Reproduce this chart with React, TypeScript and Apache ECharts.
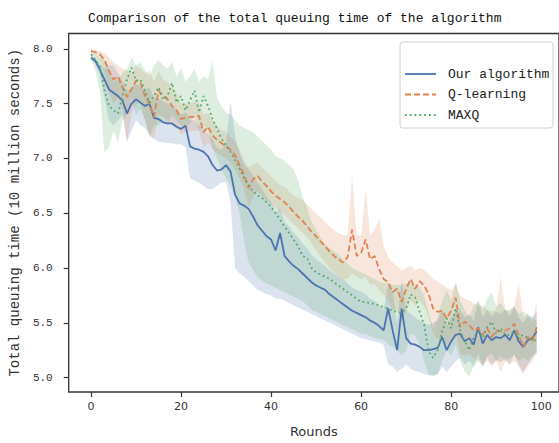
import React, { useEffect, useRef } from "react";
import * as echarts from "echarts";

const rounds: number[] = Array.from({ length: 100 }, (_, i) => i);
const xTicks = [0, 20, 40, 60, 80, 100];
const yTicks = [5.0, 5.5, 6.0, 6.5, 7.0, 7.5, 8.0];
const seriesNames = ["Our algorithm", "Q-learning", "MAXQ"];

const blueMean = [
  7.92, 7.89, 7.81, 7.72, 7.63, 7.6, 7.57, 7.53, 7.41, 7.5,
  7.54, 7.51, 7.48, 7.5, 7.37, 7.36, 7.33, 7.32, 7.32, 7.29,
  7.27, 7.3, 7.11, 7.09, 7.08, 7.06, 7.02, 6.94, 6.89, 6.9,
  6.94, 6.88, 6.67, 6.59, 6.57, 6.54, 6.47, 6.39, 6.34, 6.29,
  6.26, 6.16, 6.32, 6.11, 6.06, 6.02, 5.99, 5.95, 5.91, 5.87,
  5.84, 5.82, 5.8, 5.76, 5.73, 5.7, 5.67, 5.64, 5.61, 5.59,
  5.57, 5.55, 5.52, 5.5, 5.47, 5.43, 5.63, 5.43, 5.25, 5.63,
  5.36, 5.31, 5.3, 5.28, 5.25, 5.25, 5.26, 5.27, 5.37, 5.25,
  5.33, 5.39, 5.4, 5.33, 5.36, 5.3, 5.46, 5.31, 5.39, 5.34,
  5.37, 5.36, 5.39, 5.34, 5.43, 5.33, 5.28, 5.34, 5.36, 5.42,
];
const blueLow = [
  7.9, 7.86, 7.76, 7.55, 7.35, 7.3, 7.35, 7.4, 7.15, 7.25,
  7.35, 7.3, 7.28, 7.22, 7.18, 7.15, 7.15, 7.14, 7.14, 7.13,
  7.13, 7.1, 6.82, 6.8, 6.78, 6.75, 6.72, 6.72, 6.75, 6.78,
  6.78, 6.6, 6.0, 5.95, 5.92, 5.88, 5.84, 5.8, 5.78, 5.76,
  5.75, 5.72, 5.72, 5.7, 5.68, 5.66, 5.64, 5.62, 5.6, 5.58,
  5.56, 5.54, 5.52, 5.5, 5.48, 5.46, 5.44, 5.42, 5.4, 5.38,
  5.36, 5.35, 5.34, 5.33, 5.32, 5.3, 5.12, 5.1, 5.05, 5.08,
  5.12, 5.08, 5.06, 5.05, 5.03, 5.02, 5.02, 5.03, 5.1, 5.05,
  5.1, 5.15, 5.18, 5.12, 5.15, 5.1, 5.22, 5.1, 5.18, 5.12,
  5.16, 5.14, 5.18, 5.12, 5.22, 5.12, 5.05, 5.12, 5.18, 5.25,
];
const blueHigh = [
  7.94, 7.92, 7.86, 7.82, 7.85, 7.85, 7.78, 7.7, 7.62, 7.65,
  7.68, 7.66, 7.62, 7.65, 7.55, 7.55, 7.52, 7.5, 7.48, 7.45,
  7.4, 7.42, 7.35, 7.35, 7.3, 7.28, 7.22, 7.18, 7.1, 7.08,
  7.15, 7.52, 7.2, 7.05, 6.95, 6.9, 6.85, 6.78, 6.72, 6.65,
  6.6, 6.5, 6.55, 6.42, 6.38, 6.32, 6.28, 6.22, 6.18, 6.12,
  6.08, 6.05, 6.02, 5.98, 5.95, 5.92, 5.9, 5.86, 5.82, 5.8,
  5.78, 5.76, 5.72, 5.7, 5.66, 5.62, 5.85, 5.78, 5.5, 5.9,
  5.62, 5.58, 5.55, 5.52, 5.5, 5.48, 5.5, 5.52, 5.62, 5.48,
  5.55, 5.6, 5.62, 5.55, 5.58, 5.52, 5.7, 5.55, 5.62, 5.56,
  5.6, 5.58, 5.62, 5.56, 5.65, 5.55, 5.5, 5.56, 5.55, 5.6,
];

const orangeMean = [
  7.98, 7.97, 7.95, 7.9, 7.8, 7.72, 7.75, 7.65, 7.56, 7.63,
  7.71, 7.69, 7.57, 7.5, 7.38, 7.62, 7.57, 7.54, 7.48, 7.44,
  7.36, 7.37, 7.38, 7.38, 7.39, 7.24, 7.29, 7.21, 7.17, 7.14,
  7.11, 7.08, 7.03, 6.94, 6.85, 6.73, 6.81, 6.84, 6.79, 6.75,
  6.7, 6.66, 6.63, 6.6, 6.56, 6.51, 6.47, 6.43, 6.38, 6.33,
  6.29, 6.24, 6.2, 6.15, 6.11, 6.08, 6.05, 6.1, 6.35, 6.11,
  6.14, 6.26, 6.08, 6.11, 5.99, 5.9, 5.87, 5.78, 5.81, 5.69,
  5.81, 5.9, 5.81, 5.88, 5.84, 5.76, 5.63, 5.6, 5.61, 5.54,
  5.61, 5.73, 5.46, 5.51, 5.48, 5.43, 5.45, 5.39, 5.45, 5.37,
  5.43, 5.42, 5.43, 5.45, 5.49, 5.39, 5.28, 5.37, 5.33, 5.46,
];
const orangeLow = [
  7.96, 7.94, 7.88, 7.78, 7.6, 7.5, 7.55, 7.45, 7.15, 7.4,
  7.5, 7.5, 7.35, 7.2, 7.18, 7.4, 7.38, 7.35, 7.3, 7.28,
  7.22, 7.24, 7.25, 7.25, 7.25, 7.1, 7.15, 7.08, 7.05, 7.02,
  7.0, 6.96, 6.9, 6.82, 6.72, 6.55, 6.65, 6.7, 6.66, 6.62,
  6.58, 6.54, 6.52, 6.48, 6.44, 6.4, 6.36, 6.32, 6.28, 6.22,
  6.16, 6.1, 6.05, 6.0, 5.96, 5.92, 5.9, 5.9, 5.95, 5.92,
  5.9, 5.92, 5.85, 5.85, 5.8, 5.75, 5.7, 5.62, 5.62, 5.5,
  5.6, 5.7, 5.65, 5.7, 5.65, 5.55, 5.4, 5.35, 5.35, 5.3,
  5.32, 5.4, 5.22, 5.2, 5.22, 5.18, 5.16, 5.12, 5.15, 5.1,
  5.15, 5.05, 5.15, 5.12, 5.15, 5.1, 5.03, 5.1, 5.15, 5.22,
];
const orangeHigh = [
  8.0, 7.99, 7.98, 7.96, 7.92, 7.88, 7.85, 7.82, 7.8, 7.78,
  7.85, 7.82, 7.78, 7.8, 7.7, 7.8, 7.72, 7.7, 7.65, 7.6,
  7.5, 7.5, 7.5, 7.52, 7.5, 7.4, 7.42, 7.35, 7.3, 7.26,
  7.24, 7.2, 7.16, 7.08, 6.98, 6.92, 6.95, 6.96, 6.92, 6.88,
  6.84, 6.8, 6.76, 6.74, 6.7, 6.66, 6.64, 6.62, 6.58, 6.54,
  6.5, 6.46, 6.42, 6.38, 6.34, 6.32, 6.3, 6.3, 6.85, 6.3,
  6.3, 6.72, 6.3, 6.35, 6.45, 6.2, 6.1, 6.05, 6.02, 5.98,
  6.0, 6.02, 5.98, 6.0, 5.98, 5.95, 5.9, 5.88, 5.85, 5.82,
  5.8, 5.85, 5.75, 5.72, 5.7, 5.68, 5.66, 5.66, 5.62, 5.6,
  5.62, 5.92, 5.62, 5.6, 5.65, 5.86, 5.55, 5.58, 5.5, 5.7,
];

const greenMean = [
  7.95, 7.9, 7.84, 7.62, 7.48, 7.44, 7.41, 7.57, 7.72, 7.83,
  7.71, 7.72, 7.62, 7.51, 7.57, 7.65, 7.54, 7.57, 7.69, 7.51,
  7.57, 7.44, 7.53, 7.62, 7.42, 7.57, 7.48, 7.36, 7.27, 7.18,
  7.12, 7.06, 6.99, 6.91, 6.82, 6.76, 6.7, 6.66, 6.64, 6.6,
  6.56, 6.5, 6.44, 6.38, 6.32, 6.26, 6.2, 6.11, 6.09, 6.0,
  5.96, 5.94, 5.92, 5.9, 5.87, 5.84, 5.81, 5.78, 5.75, 5.72,
  5.69, 5.69, 5.68, 5.67, 5.66, 5.64, 5.63, 5.61, 5.6, 5.59,
  5.63, 5.76, 5.73, 5.6, 5.48, 5.24, 5.18, 5.25, 5.42, 5.54,
  5.45, 5.63, 5.43, 5.33, 5.25, 5.37, 5.42, 5.36, 5.46, 5.51,
  5.4, 5.45, 5.39, 5.39, 5.42, 5.36, 5.39, 5.36, 5.34, 5.34,
];
const greenLow = [
  7.92, 7.8, 7.6, 7.05, 7.1, 7.25, 7.15, 7.35, 7.4, 7.55,
  7.4, 7.45, 7.35, 7.2, 7.3, 7.3, 7.35, 7.3, 7.4, 7.35,
  7.3, 7.28, 7.32, 7.4, 7.25, 7.3, 7.25, 7.1, 7.0, 6.9,
  6.82, 6.75, 6.65, 6.5, 6.25, 6.05, 5.98, 5.92, 5.88, 5.86,
  5.84, 5.82, 5.8, 5.78, 5.76, 5.74, 5.72, 5.7, 5.66, 5.62,
  5.6, 5.58, 5.56, 5.54, 5.52, 5.5, 5.48, 5.46, 5.44, 5.42,
  5.4, 5.4, 5.38, 5.36, 5.35, 5.35, 5.3, 5.28, 5.25, 5.2,
  5.25, 5.4, 5.38, 5.3, 5.15, 5.03, 5.01, 5.03, 5.15, 5.25,
  5.2, 5.3, 5.15, 5.05, 5.01, 5.1, 5.15, 5.1, 5.2, 5.22,
  5.15, 5.2, 5.15, 5.18, 5.2, 5.15, 5.18, 5.15, 5.2, 5.22,
];
const greenHigh = [
  7.97, 7.95, 7.92, 7.9, 7.8, 7.7, 7.72, 7.78, 7.82, 7.92,
  7.85, 7.88, 7.8, 7.75, 7.85, 7.9, 7.85, 7.82, 7.88, 7.75,
  7.82, 7.7, 7.75, 7.82, 7.7, 7.75, 7.72, 7.89, 7.55, 7.48,
  7.42, 7.4, 7.35, 7.3, 7.28, 7.26, 7.24, 7.2, 7.16, 7.12,
  7.08, 7.02, 7.0, 6.98, 6.94, 6.9, 6.8, 6.65, 6.55, 6.42,
  6.35, 6.28, 6.22, 6.18, 6.15, 6.12, 6.08, 6.04, 6.0, 5.98,
  5.96, 5.94, 5.92, 5.9, 5.88, 5.86, 5.86, 5.85, 5.84, 5.85,
  5.86, 5.86, 5.85, 5.82, 5.75, 5.6, 5.45, 5.55, 5.7, 5.8,
  5.7, 5.88, 5.7, 5.62, 5.55, 5.65, 5.7, 5.62, 5.72, 5.78,
  5.65, 5.68, 5.62, 5.62, 5.65, 5.58, 5.6, 5.58, 5.55, 5.52,
];

const COLORS = ["#4c72b0", "#dd8452", "#55a868"];
const DASHES: any[] = ["solid", [6, 3], [1.8, 3]];
const MONO = "'Liberation Mono', 'DejaVu Sans Mono', monospace";
const SANS = "'DejaVu Sans', sans-serif";

function hexToRgba(hex: string, a: number) {
  const n = parseInt(hex.slice(1), 16);
  return `rgba(${(n >> 16) & 255},${(n >> 8) & 255},${n & 255},${a})`;
}

function bandSeries(name: string, low: number[], high: number[], color: string) {
  return {
    type: "custom",
    name: name + " band",
    silent: true,
    clip: true,
    data: [[rounds[0], low[0]]],
    z: 1,
    renderItem: (_params: any, api: any) => {
      const pts: number[][] = [];
      for (let i = 0; i < rounds.length; i++) pts.push(api.coord([rounds[i], high[i]]));
      for (let i = rounds.length - 1; i >= 0; i--) pts.push(api.coord([rounds[i], low[i]]));
      return {
        type: "polygon",
        shape: { points: pts },
        style: { fill: hexToRgba(color, 0.2), stroke: "none" },
      };
    },
  };
}

function lineSeries(name: string, vals: number[], color: string, dash: any) {
  return {
    type: "line",
    name,
    data: rounds.map((r, i) => [r, vals[i]]),
    symbol: "none",
    showSymbol: false,
    z: 3,
    lineStyle: { color, width: 1.8, type: dash, cap: "butt" },
  };
}

export default function App() {
  const ref = useRef<HTMLDivElement>(null);
  useEffect(() => {
    if (!ref.current) return;
    const chart = echarts.init(ref.current, undefined, { renderer: "svg" });
    const means = [blueMean, orangeMean, greenMean];
    const lows = [blueLow, orangeLow, greenLow];
    const highs = [blueHigh, orangeHigh, greenHigh];
    const series: any[] = [];
    for (let k = 0; k < 3; k++) {
      series.push(bandSeries(seriesNames[k], lows[k], highs[k], COLORS[k]));
    }
    for (let k = 0; k < 3; k++) {
      series.push(lineSeries(seriesNames[k], means[k], COLORS[k], DASHES[k]));
    }
    const legendY = [74, 94.5, 115];
    const legendGraphics: any[] = [
      {
        type: "rect",
        shape: { x: 400, y: 42, width: 153, height: 86, r: 3 },
        style: { fill: "rgba(255,255,255,0.85)", stroke: "#d0d0d0", lineWidth: 1 },
        z: 100,
      },
    ];
    for (let k = 0; k < 3; k++) {
      legendGraphics.push({
        type: "line",
        shape: { x1: 405, y1: legendY[k], x2: 436, y2: legendY[k] },
        style: {
          stroke: COLORS[k],
          lineWidth: 1.8,
          lineDash: k === 0 ? null : DASHES[k],
        },
        z: 101,
      });
      legendGraphics.push({
        type: "text",
        x: 448,
        y: legendY[k],
        style: {
          text: seriesNames[k],
          font: `13px ${MONO}`,
          fill: "#222",
          textVerticalAlign: "middle",
        },
        z: 101,
      });
    }
    chart.setOption({
      animation: false,
      backgroundColor: "#fff",
      title: {
        text: "Comparison of the total queuing time of the algorithm",
        left: 88,
        top: 12,
        padding: 0,
        textStyle: { fontFamily: MONO, fontSize: 13, fontWeight: "normal", color: "#111" },
      },
      grid: {
        left: 67.5,
        top: 33.5,
        right: -1,
        bottom: 45,
        show: true,
        borderColor: "#333",
        borderWidth: 1.3,
        backgroundColor: "transparent",
      },
      xAxis: {
        type: "value",
        min: -4.95,
        max: 103.95,
        name: "Rounds",
        nameLocation: "middle",
        nameGap: 33,
        nameTextStyle: { fontFamily: SANS, fontSize: 13, color: "#333" },
        axisLine: { show: false, onZero: false },
        splitLine: { show: false },
        axisTick: { show: true, inside: false, length: 5, customValues: xTicks, lineStyle: { color: "#333", width: 1.2 } },
        axisLabel: { customValues: xTicks, fontFamily: SANS, fontSize: 11, color: "#333", margin: 9 },
      },
      yAxis: {
        type: "value",
        min: 4.868,
        max: 8.141,
        name: "Total queuing time (10 million seconds)",
        nameLocation: "middle",
        nameRotate: 90,
        nameGap: 42,
        nameTextStyle: { fontFamily: MONO, fontSize: 14, color: "#333" },
        axisLine: { show: false, onZero: false },
        splitLine: { show: false },
        axisTick: { show: true, inside: false, length: 5, customValues: yTicks, lineStyle: { color: "#333", width: 1.2 } },
        axisLabel: {
          customValues: yTicks,
          formatter: (v: number) => v.toFixed(1),
          fontFamily: MONO,
          fontSize: 11,
          color: "#333",
          margin: 16,
        },
      },
      graphic: legendGraphics,
      series,
    });
    return () => chart.dispose();
  }, []);
  return <div ref={ref} style={{ width: 559, height: 443, position: "absolute", left: 0, top: 0 }} />;
}
